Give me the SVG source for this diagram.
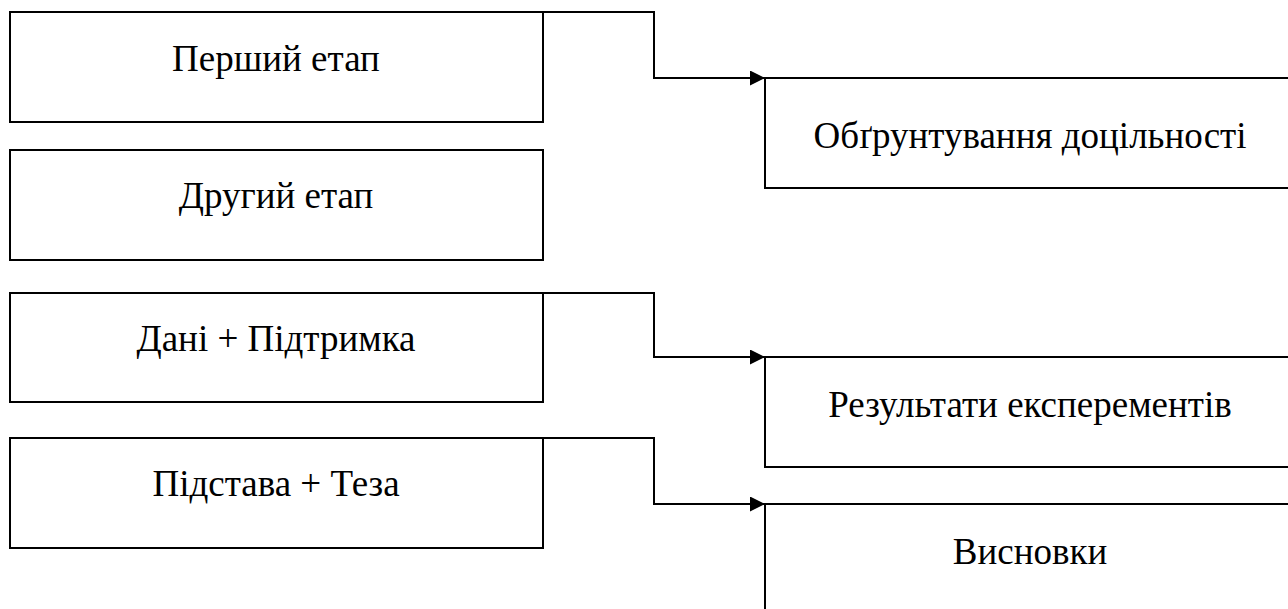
<svg xmlns="http://www.w3.org/2000/svg" width="1288" height="609" viewBox="0 0 1288 609">
<style>
.box{fill:#fff;stroke:#000;stroke-width:2}
.lbl{font-family:'Liberation Serif','DejaVu Serif',serif;font-size:37px;fill:#000;text-anchor:middle}
.con{fill:none;stroke:#000;stroke-width:2}
</style>
<defs>
<marker id="ah" markerWidth="15" markerHeight="15" refX="15" refY="7.5" orient="auto" markerUnits="userSpaceOnUse">
<path d="M0,0 L15,7.5 L0,15 Z" fill="#000"/>
</marker>
</defs>
<rect width="1288" height="609" fill="#fff"/>
<g id="n1"><rect class="box" x="10" y="12" width="533" height="110"/><text class="lbl" x="276" y="71">Перший етап</text></g>
<g id="n2"><rect class="box" x="10" y="150" width="533" height="110"/><text class="lbl" x="276" y="208">Другий етап</text></g>
<g id="n3"><rect class="box" x="10" y="293" width="533" height="109"/><text class="lbl" x="276" y="351">Дані + Підтримка</text></g>
<g id="n4"><rect class="box" x="10" y="438" width="533" height="110"/><text class="lbl" x="276" y="496">Підстава + Теза</text></g>
<g id="nA"><rect class="box" x="765" y="78" width="530" height="110"/><text class="lbl" x="1030" y="148">Обґрунтування доцільності</text></g>
<g id="nB"><rect class="box" x="765" y="357" width="530" height="110"/><text class="lbl" x="1030" y="417">Результати експерементів</text></g>
<g id="nC"><rect class="box" x="765" y="504" width="530" height="120"/><text class="lbl" x="1030" y="564">Висновки</text></g>
<g id="connectors">
<path class="con" d="M543,12 H654 V78 H765" marker-end="url(#ah)"/>
<path class="con" d="M543,293 H654 V357 H765" marker-end="url(#ah)"/>
<path class="con" d="M543,438 H654 V504 H765" marker-end="url(#ah)"/>
</g>
</svg>
